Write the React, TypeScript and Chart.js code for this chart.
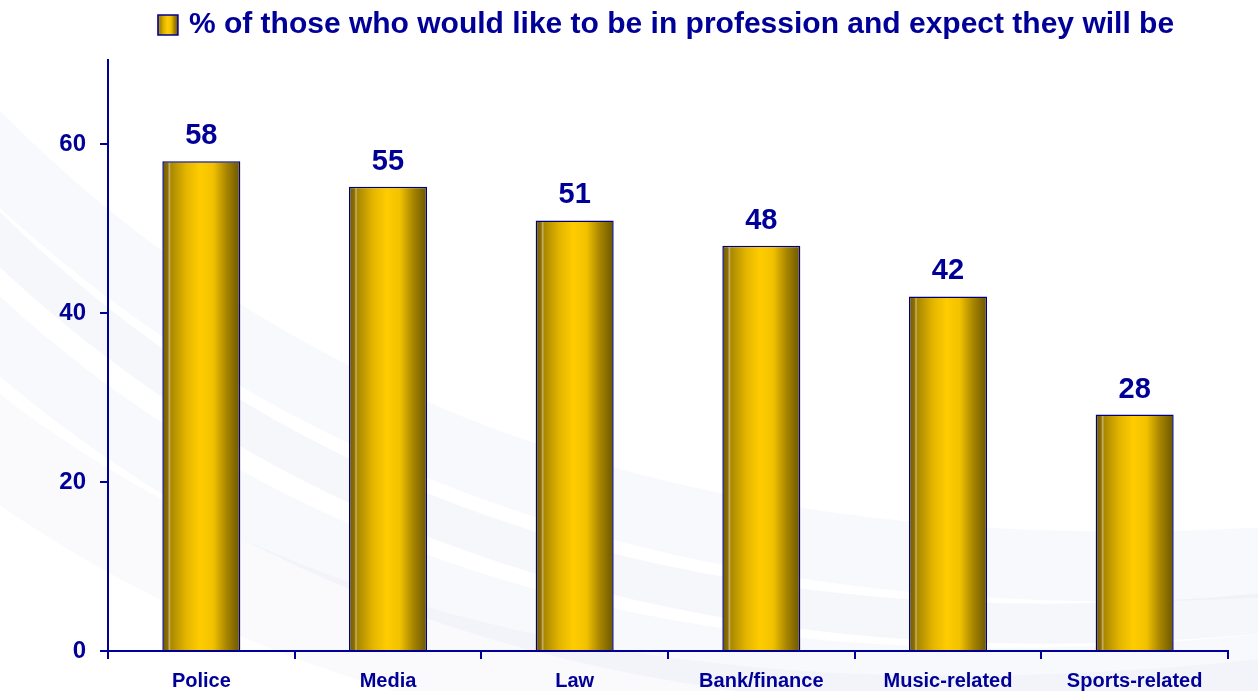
import React, { useEffect, useRef } from 'react';
import { Chart, registerables } from 'chart.js';

Chart.register(...registerables);

const categories = ['Police', 'Media', 'Law', 'Bank/finance', 'Music-related', 'Sports-related'];
const values = [58, 55, 51, 48, 42, 28];
const yTickValues = [0, 20, 40, 60];
const seriesLabel = '% of those who would like to be in profession and expect they will be';

const NAVY = '#000099';
const FONT = "'Liberation Sans', Arial, sans-serif";
const BAR_PCT = 0.418;

function goldGradient(ctx: CanvasRenderingContext2D, left: number, right: number) {
  const g = ctx.createLinearGradient(left, 0, right, 0);
  g.addColorStop(0, '#6e5800');
  g.addColorStop(0.07, '#8c7000');
  g.addColorStop(0.09, '#c9b070');
  g.addColorStop(0.11, '#a88800');
  g.addColorStop(0.3, '#e2b400');
  g.addColorStop(0.48, '#ffcc00');
  g.addColorStop(0.65, '#f2c200');
  g.addColorStop(0.82, '#a88600');
  g.addColorStop(1, '#6b5500');
  return g;
}

const backgroundPlugin = {
  id: 'bgSwoosh',
  beforeDraw(chart: any) {
    const { ctx, width } = chart;
    ctx.save();
    ctx.fillStyle = '#ffffff';
    ctx.fillRect(0, 0, width, chart.height);
    const strokes = [
      { y0: 120, cy: 620, y1: 560, w: 70, a: 0.14 },
      { y0: 200, cy: 700, y1: 610, w: 40, a: 0.18 },
      { y0: 300, cy: 760, y1: 660, w: 60, a: 0.14 },
      { y0: 420, cy: 800, y1: 700, w: 90, a: 0.11 },
    ];
    strokes.forEach((s) => {
      ctx.beginPath();
      ctx.moveTo(-40, s.y0);
      ctx.quadraticCurveTo(width * 0.35, s.cy, width + 40, s.y1);
      ctx.strokeStyle = `rgba(205, 212, 232, ${s.a})`;
      ctx.lineWidth = s.w;
      ctx.stroke();
    });
    ctx.restore();
  },
};

const legendHeightPlugin = {
  id: 'legendHeight',
  beforeLayout(chart: any) {
    const lg = chart.legend;
    if (lg && !lg._heightPatched) {
      const orig = lg.fit.bind(lg);
      lg.fit = function () {
        orig();
        this.height = 60;
      };
      lg._heightPatched = true;
    }
  },
};

const valueLabelPlugin = {
  id: 'valueLabels',
  afterDatasetsDraw(chart: any) {
    const { ctx } = chart;
    const meta = chart.getDatasetMeta(0);
    ctx.save();
    ctx.font = `bold 29px ${FONT}`;
    ctx.fillStyle = NAVY;
    ctx.textAlign = 'center';
    ctx.textBaseline = 'alphabetic';
    meta.data.forEach((el: any, i: number) => {
      ctx.fillText(String(chart.data.datasets[0].data[i]), el.x, el.y - 17);
    });
    ctx.restore();
  },
};

const legendBoxPlugin = {
  id: 'legendBoxGradient',
  afterDraw(chart: any) {
    const lg = chart.legend;
    if (!lg || !lg.legendHitBoxes || !lg.legendHitBoxes.length) return;
    const hb = lg.legendHitBoxes[0];
    const bw = 20;
    const bh = 20;
    const left = hb.left + 4;
    const top = hb.top + (hb.height - bh) / 2;
    const { ctx } = chart;
    ctx.save();
    ctx.fillStyle = goldGradient(ctx, left, left + bw);
    ctx.fillRect(left, top, bw, bh);
    ctx.strokeStyle = NAVY;
    ctx.lineWidth = 1.5;
    ctx.strokeRect(left, top, bw, bh);
    ctx.restore();
  },
};

export default function App() {
  const canvasRef = useRef<HTMLCanvasElement | null>(null);

  useEffect(() => {
    if (!canvasRef.current) return;
    const chart = new Chart(canvasRef.current, {
      type: 'bar',
      data: {
        labels: categories,
        datasets: [
          {
            label: seriesLabel,
            data: values,
            backgroundColor: (c: any) => {
              const ch = c.chart;
              const xs = ch.scales && ch.scales.x;
              if (!ch.chartArea || !xs || c.type !== 'data') return '#e0b400';
              const cx = xs.getPixelForValue(c.dataIndex);
              const half = ((xs.width / categories.length) * BAR_PCT) / 2;
              return goldGradient(ch.ctx, cx - half, cx + half);
            },
            borderColor: '#000080',
            borderWidth: 1.5,
            barPercentage: BAR_PCT,
            categoryPercentage: 1,
          },
        ],
      },
      options: {
        responsive: false,
        animation: false,
        devicePixelRatio: 1,
        layout: { padding: { left: 100, right: 30, top: 0, bottom: 0 } },
        plugins: {
          tooltip: { enabled: false },
          legend: {
            display: true,
            position: 'top',
            align: 'center',
            labels: {
              color: NAVY,
              font: { family: FONT, size: 30, weight: 'bold' },
              boxWidth: 20,
              boxHeight: 20,
              padding: 10,
              generateLabels: (ch: any) => [
                {
                  text: ch.data.datasets[0].label,
                  fillStyle: 'rgba(0,0,0,0)',
                  strokeStyle: 'rgba(0,0,0,0)',
                  lineWidth: 0,
                  hidden: false,
                  datasetIndex: 0,
                  fontColor: NAVY,
                },
              ],
            },
          },
        },
        scales: {
          x: {
            offset: true,
            afterFit: (scale: any) => {
              scale.height = 40;
            },
            grid: {
              display: true,
              offset: true,
              drawOnChartArea: false,
              drawTicks: true,
              tickLength: 8,
              color: NAVY,
              lineWidth: 2,
            },
            border: { display: true, color: NAVY, width: 2 },
            ticks: {
              color: NAVY,
              font: { family: FONT, size: 20, weight: 'bold' },
              padding: 10,
              maxRotation: 0,
              autoSkip: false,
            },
          },
          y: {
            min: 0,
            max: 70,
            afterFit: (scale: any) => {
              scale.width = 8;
              scale._computeLabelArea = () => undefined;
            },
            afterBuildTicks: (scale: any) => {
              scale.ticks = yTickValues.map((v) => ({ value: v }));
            },
            grid: {
              display: true,
              drawOnChartArea: false,
              drawTicks: true,
              tickLength: 8,
              color: NAVY,
              lineWidth: 2,
            },
            border: { display: true, color: NAVY, width: 2 },
            ticks: {
              color: NAVY,
              font: { family: FONT, size: 24, weight: 'bold' },
              padding: 14,
            },
          },
        },
      },
      plugins: [legendHeightPlugin, backgroundPlugin, valueLabelPlugin, legendBoxPlugin],
    } as any);
    return () => chart.destroy();
  }, []);

  return (
    <div style={{ position: 'absolute', left: 0, top: 0, width: 1258, height: 691, background: '#fff' }}>
      <canvas ref={canvasRef} width={1258} height={691} style={{ display: 'block' }} />
    </div>
  );
}
